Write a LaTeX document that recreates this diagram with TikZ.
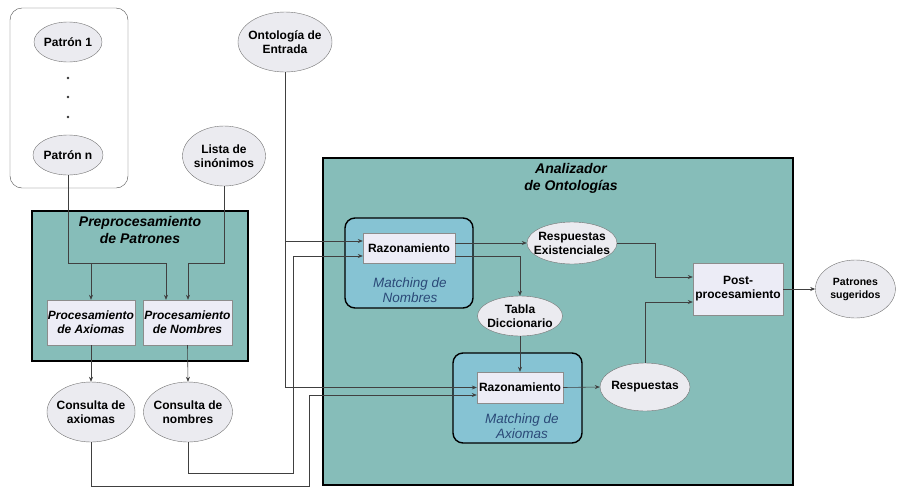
\documentclass[tikz,border=0pt]{standalone}
\usepackage{fontspec}
\setmainfont{Liberation Sans}
\usetikzlibrary{positioning,shapes.geometric,arrows.meta}
\definecolor{verdeazul}{HTML}{86BDB9}
\definecolor{celeste}{HTML}{86C3D3}
\definecolor{lila}{HTML}{ECECF6}
\definecolor{gris}{HTML}{EBEBF0}
\definecolor{azulosc}{HTML}{2B4A78}

\begin{document}
\begin{tikzpicture}[x=1pt, y=-1pt, >={Stealth[length=5pt,width=4pt]},
	every node/.style={font=\fontsize{12}{14}\selectfont\bfseries, align=center},
	elipse/.style={ellipse, draw=black!55, fill=gris, inner xsep=-9pt, inner ysep=-5pt},
	caja/.style={rectangle, draw=black!45, fill=lila, inner sep=0pt},
	bloque/.style={rectangle, draw=black, line width=1.4pt, fill=verdeazul, inner sep=0pt},
	grupo/.style={rectangle, rounded corners=10pt, draw=black, line width=1.4pt, fill=celeste, inner sep=0pt},
	titulo/.style={font=\fontsize{14}{17}\selectfont\bfseries\itshape},
	sub/.style={font=\fontsize{13.5}{15}\selectfont\itshape, text=azulosc},
	linea/.style={draw=black!75, line width=0.6pt}]
	
	\useasboundingbox (0,0) rectangle (897,488);
	
	% entradas
	\node[draw=black!70, rounded corners=12pt, minimum width=118pt, minimum height=180pt] (conjunto) at (69,98) {};
	\node[elipse, minimum width=68pt, minimum height=40pt] (pat1) at (68,42) {Patrón 1};
	\foreach \y in {78,97,117} \fill[black!80] (68,\y) circle (1.3pt);
	\node[elipse, minimum width=70pt, minimum height=40pt] (patn) at (68,155) {Patrón n};
	\node[elipse, minimum width=83pt, minimum height=60pt] (lista) at (224,156) {Lista de\\sinónimos};
	\node[elipse, minimum width=94pt, minimum height=60pt] (onto) at (285,42) {Ontología de\\Entrada};
	
	% preprocesamiento de patrones
	\node[bloque, minimum width=216pt, minimum height=150pt] (prep) at (140,286) {};
	\node[titulo] (tprep) at (140,230) {Preprocesamiento\\de Patrones};
	\node[caja, minimum width=88pt, minimum height=45pt, font=\fontsize{12}{14}\selectfont\bfseries\itshape] (procax) at (91,322.5) {Procesamiento\\de Axiomas};
	\node[caja, minimum width=89pt, minimum height=45pt, font=\fontsize{12}{14}\selectfont\bfseries\itshape] (procnom) at (187.5,322.5) {Procesamiento\\de Nombres};
	\node[elipse, minimum width=88pt, minimum height=60pt] (conax) at (91,412) {Consulta de\\axiomas};
	\node[elipse, minimum width=89pt, minimum height=60pt] (connom) at (188,412) {Consulta de\\nombres};
	
	% analizador de ontologias
	\node[bloque, minimum width=470pt, minimum height=327pt] (anal) at (558,321.5) {};
	\node[titulo] (tanal) at (571,178) {Analizador\\de Ontologías};
	\node[grupo, minimum width=128pt, minimum height=90pt] (matnom) at (409,263) {};
	\node[caja, minimum width=92pt, minimum height=30pt] (raz1) at (409,248) {Razonamiento};
	\node[sub] (tmatnom) at (410,290) {Matching de\\Nombres};
	\node[elipse, minimum width=90pt, minimum height=42pt] (resex) at (572,243) {Respuestas\\Existenciales};
	\node[elipse, minimum width=85pt, minimum height=40pt] (tabla) at (520,316) {Tabla\\Diccionario};
	\node[grupo, minimum width=129pt, minimum height=90pt] (matax) at (517.5,398) {};
	\node[caja, minimum width=86pt, minimum height=31pt] (raz2) at (520,387.5) {Razonamiento};
	\node[sub] (tmatax) at (522,426) {Matching de\\Axiomas};
	\node[elipse, minimum width=90pt, minimum height=48pt] (resp) at (645,387) {Respuestas};
	\node[caja, minimum width=90pt, minimum height=52pt] (post) at (738,289) {Post-\\procesamiento};
	\node[elipse, minimum width=80pt, minimum height=58pt, right=32pt of post, font=\fontsize{10.5}{13}\selectfont\bfseries] (sug) {Patrones\\sugeridos};
	
	% cruces
	\coordinate (jax) at (91,263);
	\coordinate (jna) at (166,263);
	\coordinate (jnb) at (188,263);
	
	% flechas del preprocesamiento
	\draw[linea,->] (patn.south) |- (jna) -- (jna |- procnom.north);
	\draw[linea,->] (jax) -- (procax.north);
	\draw[linea,->] (lista.south) |- (jnb) -- (jnb |- procnom.north);
	\draw[linea,->] (procax.south) -- (conax.north);
	\draw[linea,->] (procnom.south) -- (connom.north);
	
	% entradas del analizador
	\draw[linea,->] (onto.south) |- ([yshift=7pt]raz1.west);
	\draw[linea,->] (onto.south) |- (raz2.west);
	\draw[linea,->] (connom.south) |- (293,473) |- ([yshift=-8pt]raz1.west);
	\draw[linea,->] (conax.south) |- (309,486) |- ([yshift=-7.5pt]raz2.west);
	
	% flechas internas
	\draw[linea,->] ([yshift=5pt]raz1.east) -- (resex.west);
	\draw[linea,->] ([yshift=-8pt]raz1.east) -| (tabla.north);
	\draw[linea,->] (tabla.south) -- (raz2.north);
	\draw[linea,->] (raz2.east) -- (resp.west);
	\draw[linea,->] (resex.east) -| (655,277) -- ([yshift=12pt]post.west);
	\draw[linea,->] (resp.north) |- ([yshift=-13pt]post.west);
	\draw[linea,->] (post.east) -- (sug.west);
	
\end{tikzpicture}
\end{document}
